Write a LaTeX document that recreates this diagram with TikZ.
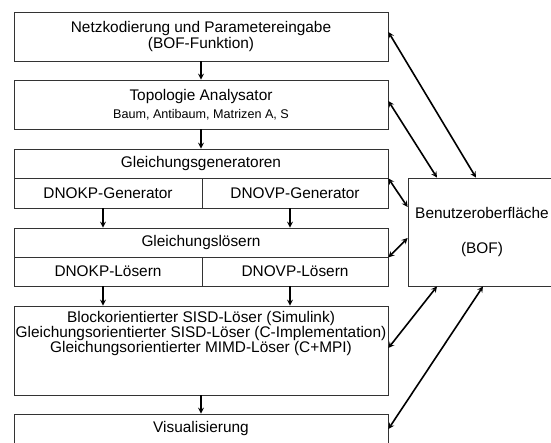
\documentclass[tikz,border=0pt]{standalone}
\usepackage{fontspec}
\setmainfont{Liberation Sans}
\usepackage{tikz}
\newcommand{\boxfont}{\fontsize{15.4}{12}\selectfont}
\newcommand{\smallboxfont}{\fontsize{12.6}{12}\selectfont}

\begin{document}
\begin{tikzpicture}[>=stealth,x=1pt,y=1pt,
	box/.style={draw=black!80,line width=0.8pt,minimum width=374pt,inner sep=0pt,align=center,font=\boxfont},
	flow/.style={->,line width=1.6pt},
	link/.style={<->,line width=1.6pt}
	]
	\useasboundingbox (0,0) rectangle (551,-443);
	\node[box,minimum height=49pt] (netz) at (201,-36.5) {Netzkodierung und Parametereingabe\\[0.5pt](BOF-Funktion)};
	\node[box,minimum height=49pt] (topo) at (201,-104.5) {Topologie Analysator\\[5pt]{\smallboxfont Baum, Antibaum, Matrizen A, S}};
	\node[box,minimum height=29pt] (ggen) at (201,-163.5) {Gleichungsgeneratoren};
	\node[box,minimum width=188pt,minimum height=30pt] (dgen1) at (108,-193) {DNOKP-Generator};
	\node[box,minimum width=186pt,minimum height=30pt] (dgen2) at (295,-193) {DNOVP-Generator};
	\node[box,minimum height=29pt] (gloes) at (201,-242.5) {Gleichungslösern};
	\node[box,minimum width=188pt,minimum height=29pt] (dloes1) at (108,-271.5) {DNOKP-Lösern};
	\node[box,minimum width=186pt,minimum height=29pt] (dloes2) at (295,-271.5) {DNOVP-Lösern};
	\node[box,minimum height=89pt] (solver) at (201,-350.5) {};
	\node[align=center,font=\boxfont,inner sep=0pt] (solvertext) at (201,-333.5) {Blockorientierter SISD-Löser (Simulink)\\Gleichungsorientierter SISD-Löser (C-Implementation)\\Gleichungsorientierter MIMD-Löser (C+MPI)};
	\node[box,minimum height=30pt] (vis) at (201,-429) {Visualisierung};
	\node[box,minimum width=148pt,minimum height=108pt] (bof) at (482,-232) {Benutzeroberfläche\\[23pt](BOF)};

	\draw[flow] (netz) -- (topo);
	\draw[flow] (topo) -- (ggen);
	\draw[flow] ([xshift=-5pt]dgen1.south) -- ([xshift=-5pt]dgen1.south |- gloes.north);
	\draw[flow] ([xshift=-5pt]dgen2.south) -- ([xshift=-5pt]dgen2.south |- gloes.north);
	\draw[flow] ([xshift=-5pt]dloes1.south) -- ([xshift=-5pt]dloes1.south |- solver.north);
	\draw[flow] ([xshift=-5pt]dloes2.south) -- ([xshift=-5pt]dloes2.south |- solver.north);
	\draw[flow] (solver) -- (vis);

	\draw[link] ([yshift=4.5pt]netz.east) -- ([xshift=-6pt]bof.north);
	\draw[link] ([yshift=3.5pt]topo.east) -- ([xshift=-45pt]bof.north);
	\draw[link] (ggen.south east) -- ([yshift=25pt]bof.west);
	\draw[link] (gloes.south east) -- ([yshift=-6pt]bof.west);
	\draw[link] ([yshift=2.5pt]solver.east) -- ([xshift=-45pt]bof.south);
	\draw[link] (vis.east) -- ([xshift=1pt]bof.south);
\end{tikzpicture}
\end{document}
